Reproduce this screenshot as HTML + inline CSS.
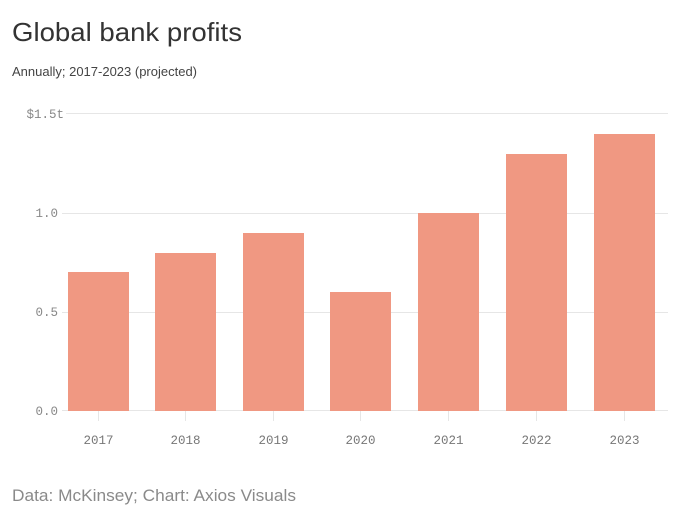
<!DOCTYPE html>
<html><head><style>
body{margin:0;background:#fff;width:680px;height:520px;overflow:hidden;font-family:"Liberation Sans",sans-serif}
</style></head><body>
<svg width="680" height="520" xmlns="http://www.w3.org/2000/svg">
<text x="12" y="41" font-size="26" fill="#333" font-family="Liberation Sans, sans-serif" textLength="230" lengthAdjust="spacingAndGlyphs">Global bank profits</text>
<text x="12" y="76" font-size="13" fill="#444" font-family="Liberation Sans, sans-serif">Annually; 2017-2023 (projected)</text>
<g stroke="#e6e6e6" stroke-width="1">
<line x1="66" x2="668" y1="113.5" y2="113.5"/>
<line x1="62" x2="668" y1="213.5" y2="213.5"/>
<line x1="62" x2="668" y1="312.5" y2="312.5"/>
<line x1="62" x2="668" y1="410.5" y2="410.5"/>
<line x1="98.5" x2="98.5" y1="411" y2="421"/>
<line x1="185.5" x2="185.5" y1="411" y2="421"/>
<line x1="273.5" x2="273.5" y1="411" y2="421"/>
<line x1="360.5" x2="360.5" y1="411" y2="421"/>
<line x1="448.5" x2="448.5" y1="411" y2="421"/>
<line x1="536.5" x2="536.5" y1="411" y2="421"/>
<line x1="624.5" x2="624.5" y1="411" y2="421"/>
</g>
<g font-family="Liberation Mono, monospace" font-size="12.5" fill="#888" text-anchor="end">
<text x="64" y="118">$1.5t</text>
<text x="58" y="217">1.0</text>
<text x="58" y="316">0.5</text>
<text x="58" y="415">0.0</text>
</g>
<g fill="#f09882">
<rect x="68" y="272" width="61" height="139"/>
<rect x="155" y="253" width="61" height="158"/>
<rect x="243" y="233" width="61" height="178"/>
<rect x="330" y="292" width="61" height="119"/>
<rect x="418" y="213" width="61" height="198"/>
<rect x="506" y="154" width="61" height="257"/>
<rect x="594" y="134" width="61" height="277"/>
</g>
<g font-family="Liberation Mono, monospace" font-size="12.5" fill="#777" text-anchor="middle">
<text x="98.5" y="444">2017</text>
<text x="185.5" y="444">2018</text>
<text x="273.5" y="444">2019</text>
<text x="360.5" y="444">2020</text>
<text x="448.5" y="444">2021</text>
<text x="536.5" y="444">2022</text>
<text x="624.5" y="444">2023</text>
</g>
<text x="12" y="501" font-size="17" fill="#8a8a8a" font-family="Liberation Sans, sans-serif" textLength="284" lengthAdjust="spacingAndGlyphs">Data: McKinsey; Chart: Axios Visuals</text>
</svg>
</body></html>
